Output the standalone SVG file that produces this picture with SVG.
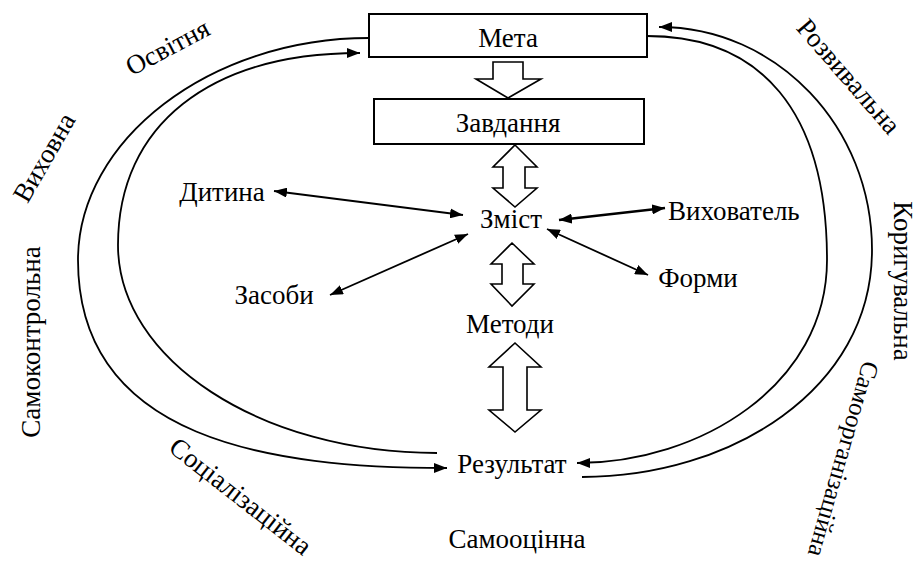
<svg xmlns="http://www.w3.org/2000/svg" width="918" height="569" viewBox="0 0 918 569">
<style>
text{font-family:"Liberation Serif","Times New Roman",serif;font-size:27px;fill:#000}
.c{text-anchor:middle}
.box{fill:#fff;stroke:#000;stroke-width:2}
.blk{fill:#fff;stroke:#000;stroke-width:1.6;stroke-linejoin:miter}
.ln{fill:none;stroke:#000;stroke-width:1.8}
.ar{marker-end:url(#ah)}
.dbl{marker-start:url(#ah);marker-end:url(#ah)}
</style>
<defs>
<marker id="ah" markerUnits="userSpaceOnUse" markerWidth="14" markerHeight="10" refX="13" refY="5" orient="auto-start-reverse">
<path d="M0,0 L13,5 L0,10 z" fill="#000"/>
</marker>
</defs>
<rect width="918" height="569" fill="#fff"/>

<g id="connectors">
<path class="ln ar" d="M369,38 C210,38 78,140 78,260 C78,440 270,468 447,468"/>
<path class="ln ar" d="M437,453 C261,453 118,360 118,245 C118,125 210,53 360,53"/>
<path class="ln ar" d="M582,477 C730,477 872,390 872,250 C872,127 777,27 659,27"/>
<path class="ln ar" d="M647,36 C760,36 827,110 827,260 C827,385 700,463 577,463"/>
<line class="ln dbl" x1="274" y1="191" x2="463" y2="215"/>
<line class="ln dbl" x1="330" y1="295" x2="468" y2="234"/>
<line class="ln dbl" style="stroke-width:2.6" x1="559" y1="220" x2="665" y2="208"/>
<line class="ln dbl" x1="547" y1="229" x2="648" y2="275"/>
<path class="blk" d="M493,62 L523,62 L523,79 L541,79 L508,98 L476,79 L493,79 Z"/>
<path class="blk" d="M515,145 L537,167 L525,167 L525,188 L537,188 L515,207 L493,188 L503,188 L503,167 L493,167 Z"/>
<path class="blk" d="M512,243 L534,264 L523,264 L523,284 L534,284 L512,306 L491,284 L502,284 L502,264 L491,264 Z"/>
<path class="blk" d="M515,343 L541,367 L527,367 L527,410 L541,410 L515,432 L489,410 L503,410 L503,367 L489,367 Z"/>
</g>

<g id="meta"><rect class="box" x="369" y="14" width="278" height="43"/><text class="c" x="508" y="47">Мета</text></g>
<g id="zavdannia"><rect class="box" x="374" y="99" width="270" height="45"/><text class="c" x="508" y="132">Завдання</text></g>
<g id="dytyna"><text class="c" x="222" y="201">Дитина</text></g>
<g id="zmist"><text class="c" x="511" y="228">Зміст</text></g>
<g id="vykhovatel"><text x="668" y="220">Вихователь</text></g>
<g id="zasoby"><text class="c" x="274" y="304">Засоби</text></g>
<g id="formy"><text class="c" x="698" y="287">Форми</text></g>
<g id="metody"><text class="c" x="510" y="333">Методи</text></g>
<g id="rezultat"><text class="c" x="512" y="473">Результат</text></g>
<g id="samootsinna"><text class="c" x="517" y="548">Самооцінна</text></g>

<g id="osvitnia"><text class="c" transform="translate(168,48) rotate(-28)" y="8">Освітня</text></g>
<g id="vykhovna"><text class="c" transform="translate(45,158) rotate(-60)" y="8">Виховна</text></g>
<g id="samokontrolna"><text class="c" transform="translate(32,342) rotate(-90)" y="8">Самоконтрольна</text></g>
<g id="sotsializatsiina"><text class="c" transform="translate(240,497) rotate(38)" y="8">Соціалізаційна</text></g>
<g id="rozvyvalna"><text class="c" transform="translate(848,77) rotate(49)" y="8">Розвивальна</text></g>
<g id="koryguvalna"><text class="c" transform="translate(902,281) rotate(90)" y="8">Коригувальна</text></g>
<g id="samoorganizatsiina"><text transform="translate(871,362) rotate(106)" y="8" style="font-size:25px">Самоорганізаційна</text></g>
</svg>
